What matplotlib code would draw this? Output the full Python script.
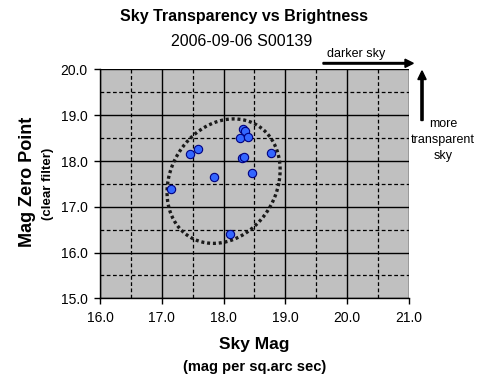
import numpy as np
import matplotlib
matplotlib.use("Agg")
import matplotlib.pyplot as plt
from matplotlib.ticker import MultipleLocator

plt.rcParams['font.family'] = ['Liberation Sans', 'DejaVu Sans']

sky_mag = [17.15, 17.46, 17.59, 17.85, 18.11, 18.31, 18.35, 18.27, 18.39, 18.29, 18.33, 18.46, 18.77]
zero_pt = [17.39, 18.16, 18.27, 17.66, 16.41, 18.70, 18.66, 18.50, 18.52, 18.07, 18.09, 17.74, 18.18]

# ellipse (center, semi-axes, shear)
ell_cx, ell_cy = 18.0, 17.56
ell_ax, ell_by, ell_sx = 0.90, 1.36, 0.165

x_ticks = [16.0, 17.0, 18.0, 19.0, 20.0, 21.0]
y_ticks = [15.0, 16.0, 17.0, 18.0, 19.0, 20.0]

fig = plt.figure(figsize=(4.87, 3.91), dpi=100)
ax = fig.add_axes([0.2053, 0.2371, 0.6345, 0.5852])
ax.set_facecolor('#C0C0C0')
ax.set_xlim(16, 21)
ax.set_ylim(15, 20)
ax.xaxis.set_minor_locator(MultipleLocator(0.5))
ax.yaxis.set_minor_locator(MultipleLocator(0.5))
ax.set_xticks(x_ticks)
ax.set_yticks(y_ticks)
ax.set_xticklabels([f"{v:.1f}" for v in x_ticks], fontsize=10)
ax.set_yticklabels([f"{v:.1f}" for v in y_ticks], fontsize=10)
ax.grid(which='major', color='black', linewidth=1.0, linestyle='-')
ax.grid(which='minor', color='black', linewidth=0.9, linestyle=(0, (3, 2)))
ax.tick_params(which='minor', length=0)
ax.tick_params(which='major', direction='out', length=4, width=1, pad=5)
ax.set_axisbelow(True)
for s in ['top', 'right']:
    ax.spines[s].set_visible(False)
for s in ['left', 'bottom']:
    ax.spines[s].set_linewidth(1)

t = np.linspace(0, 2 * np.pi, 400)
ex = ell_cx + ell_ax * np.cos(t) + ell_sx * np.sin(t)
ey = ell_cy + ell_by * np.sin(t)
ax.plot(ex, ey, color='#1a1a1a', linewidth=2.4, linestyle=(0, (0.9, 0.85)),
        dash_capstyle='butt', zorder=3)

ax.plot(sky_mag, zero_pt, linestyle='none', marker='o', markersize=6,
        markerfacecolor='#3366FF', markeredgecolor='#000080', markeredgewidth=0.8,
        zorder=4)

fig.text(0.501, 1 - 17 / 391, 'Sky Transparency vs Brightness', ha='center', va='center',
         fontsize=11.5, fontweight='bold')
fig.text(0.497, 1 - 42 / 391, '2006-09-06 S00139', ha='center', va='center', fontsize=11.5)

fig.text(0.523, 1 - 345 / 391, 'Sky Mag', ha='center', va='center', fontsize=12.5, fontweight='bold')
fig.text(0.523, 1 - 367 / 391, '(mag per sq.arc sec)', ha='center', va='center', fontsize=10.5,
         fontweight='bold')

fig.text(27 / 487, 1 - 182 / 391, 'Mag Zero Point', ha='center', va='center', rotation=90,
         fontsize=13, fontweight='bold')
fig.text(48.5 / 487, 1 - 184 / 391, '(clear filter)', ha='center', va='center', rotation=90,
         fontsize=9.5, fontweight='bold')

# annotations
fig.text(356 / 487, 1 - 54 / 391, 'darker sky', ha='center', va='center', fontsize=9)
fig.patches.append(matplotlib.patches.FancyArrow(
    323 / 487, 1 - 63.3 / 391, 82 / 487, 0, width=0.004, head_width=0.021, head_length=0.017,
    length_includes_head=False, color='black', transform=fig.transFigure, figure=fig))
fig.patches.append(matplotlib.patches.FancyArrow(
    422 / 487, 1 - 120.5 / 391, 0, 41 / 391, width=0.0045, head_width=0.017, head_length=0.022,
    length_includes_head=False, color='black', transform=fig.transFigure, figure=fig))
fig.text(443 / 487, 1 - 140 / 391, 'more\ntransparent\nsky', ha='center', va='center',
         fontsize=9, linespacing=1.45)

fig.savefig('out.png', dpi=100)
